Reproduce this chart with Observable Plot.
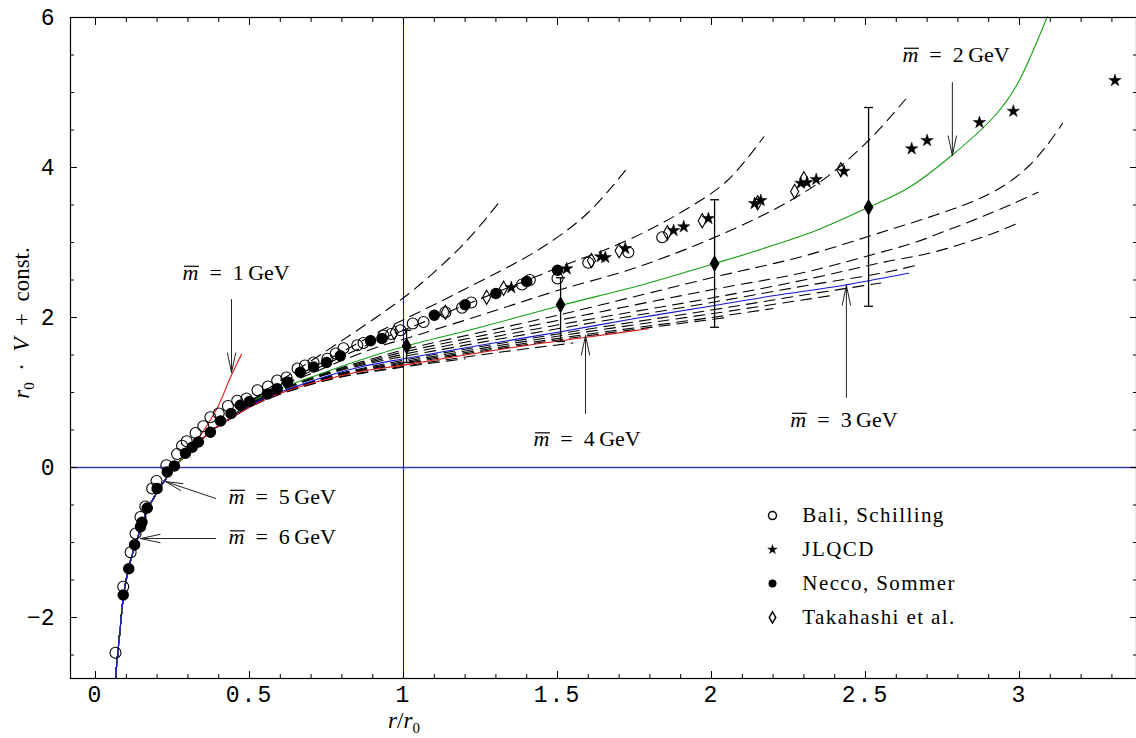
<!DOCTYPE html>
<html><head><meta charset="utf-8">
<script src="https://cdn.jsdelivr.net/npm/d3@7"></script>
<script src="https://cdn.jsdelivr.net/npm/@observablehq/plot@0.6"></script>
<style>body{margin:0;background:#fff;}</style>
</head><body><div id="chart"></div>
<script>
// ---------- data ----------
const xMajorTicks = [0, 0.5, 1, 1.5, 2, 2.5, 3];
const yMajorTicks = [-2, 0, 2, 4, 6];

// lattice data [r/r0, r0*V + const]
const baliSchilling = [[0.065,-2.47],[0.090,-1.59],[0.114,-1.13],[0.130,-0.88],[0.146,-0.66],[0.162,-0.52],[0.184,-0.28],[0.198,-0.18],[0.230,0.03],[0.265,0.18],[0.281,0.29],[0.296,0.35],[0.325,0.46],[0.35,0.55],[0.373,0.67],[0.40,0.72],[0.43,0.82],[0.46,0.89],[0.49,0.92],[0.526,1.03],[0.56,1.08],[0.59,1.16],[0.62,1.20],[0.656,1.32],[0.68,1.36],[0.708,1.40],[0.753,1.45],[0.78,1.52],[0.805,1.59],[0.85,1.63],[0.87,1.66],[0.935,1.76],[0.96,1.78],[0.99,1.83],[1.03,1.92],[1.065,1.94],[1.136,2.07],[1.19,2.13],[1.22,2.20],[1.385,2.44],[1.41,2.50],[1.50,2.52],[1.60,2.73],[1.73,2.87],[1.84,3.07]];
const jlqcd = [[1.35,2.40],[1.53,2.65],[1.64,2.81],[1.655,2.80],[1.72,2.92],[1.877,3.16],[1.91,3.21],[1.99,3.32],[2.14,3.52],[2.16,3.56],[2.29,3.79],[2.31,3.80],[2.34,3.84],[2.43,3.95],[2.65,4.25],[2.70,4.36],[2.87,4.60],[2.98,4.75],[3.31,5.16]];
const neccoSommer = [[0.090,-1.70],[0.108,-1.35],[0.127,-1.03],[0.146,-0.79],[0.151,-0.73],[0.168,-0.54],[0.200,-0.28],[0.233,-0.06],[0.256,0.02],[0.292,0.19],[0.314,0.27],[0.334,0.34],[0.373,0.47],[0.406,0.62],[0.44,0.72],[0.47,0.83],[0.50,0.88],[0.558,0.98],[0.59,1.05],[0.623,1.14],[0.665,1.27],[0.708,1.34],[0.75,1.40],[0.795,1.49],[0.893,1.69],[0.93,1.72],[1.10,2.03],[1.20,2.17],[1.30,2.32],[1.40,2.48],[1.50,2.63]];
const takahashi = [[0.97,1.80],[1.136,2.07],[1.27,2.27],[1.325,2.39],[1.61,2.76],[1.70,2.89],[1.857,3.13],[1.97,3.29],[2.15,3.53],[2.27,3.68],[2.30,3.85],[2.42,3.97]];
// filled diamonds with error bars: [x, y, low, high]
const estimate = [[1.01,1.62,1.40,1.83],[1.51,2.17,1.68,2.53],[2.01,2.72,1.87,3.57],[2.51,3.47,2.15,4.80]];

// curves
const sharedStart = [[0.065,-2.80],[0.08,-2.15],[0.092,-1.68],[0.11,-1.30],[0.13,-1.02],[0.15,-0.78],[0.168,-0.57],[0.20,-0.33],[0.23,-0.14],[0.265,0.05],[0.30,0.18],[0.341,0.36],[0.38,0.50],[0.428,0.63]];
const red1 = [[0.318,0.32],[0.351,0.49],[0.396,0.80],[0.438,1.20],[0.474,1.51]];
const green2 = [[0.526,0.92],[0.773,1.31],[0.925,1.52],[1.0,1.61],[1.055,1.67],[1.25,1.87],[1.51,2.16],[1.77,2.43],[2.01,2.72],[2.13,2.87],[2.34,3.16],[2.51,3.47],[2.64,3.73],[2.78,4.16],[2.92,4.69],[2.99,5.09],[3.09,6.01]];
const blue3 = [[0.536,0.90],[0.643,1.07],[0.753,1.22],[0.86,1.34],[1.0,1.45],[1.25,1.63],[1.51,1.81],[1.77,2.0],[2.01,2.16],[2.2,2.29],[2.43,2.43],[2.64,2.59]];
const red4 = [[0.536,0.88],[0.643,1.05],[0.753,1.18],[0.86,1.28],[1.0,1.365],[1.2,1.50],[1.42,1.64],[1.6,1.74],[1.795,1.85]];
const dashedCurves = [
  [[0.526,0.95],[0.74,1.53],[0.9,1.97],[1.03,2.36],[1.2,3.0],[1.315,3.56]],
  [[0.526,0.94],[0.75,1.43],[0.925,1.82],[1.0,1.97],[1.2,2.38],[1.445,2.92],[1.6,3.4],[1.734,4.03]],
  [[0.526,0.93],[0.75,1.38],[0.925,1.71],[1.0,1.83],[1.25,2.25],[1.5,2.66],[1.727,3.03],[1.9,3.40],[2.05,3.82],[2.17,4.41]],
  [[0.526,0.92],[0.75,1.34],[0.925,1.62],[1.0,1.71],[1.25,2.03],[1.5,2.36],[1.78,2.70],[2.13,3.29],[2.35,3.80],[2.51,4.36],[2.63,4.91]],
  [[0.526,0.91],[0.75,1.27],[0.925,1.48],[1.0,1.57],[1.5,2.03],[2.0,2.53],[2.3,2.82],[2.57,3.16],[2.73,3.37],[2.85,3.55],[2.95,3.76],[3.03,4.02],[3.09,4.30],[3.14,4.59]],
  [[0.526,0.905],[0.75,1.26],[0.925,1.46],[1.0,1.54],[1.5,1.96],[2.0,2.37],[2.3,2.6],[2.55,2.87],[2.66,3.0],[2.77,3.17],[2.87,3.33],[2.98,3.52],[3.06,3.67]],
  [[0.53,0.90],[0.75,1.25],[0.925,1.44],[1.0,1.51],[1.5,1.90],[2.0,2.26],[2.3,2.5],[2.55,2.73],[2.72,2.87],[2.906,3.11],[2.99,3.25]],
  [[0.53,0.90],[0.75,1.24],[0.925,1.42],[1.0,1.48],[1.5,1.85],[2.0,2.20],[2.3,2.42],[2.55,2.59],[2.66,2.69]],
  [[0.536,0.895],[0.753,1.21],[1.0,1.43],[1.5,1.78],[2.0,2.10],[2.3,2.30],[2.55,2.46]],
  [[0.536,0.89],[0.753,1.205],[1.0,1.41],[1.5,1.75],[2.0,2.05],[2.4,2.30]],
  [[0.536,0.887],[0.753,1.20],[1.0,1.395],[1.5,1.72],[2.0,2.0],[2.2,2.12]],
  [[0.536,0.884],[0.753,1.19],[1.0,1.38],[1.5,1.70],[2.05,2.0]],
  [[0.536,0.878],[0.753,1.17],[1.0,1.35],[1.3,1.53],[1.55,1.66]],
  [[0.536,0.875],[0.753,1.165],[1.0,1.34],[1.2,1.45]]
];

// annotations
const massValues = ["1","2","3","4","5","6"];
const massLabelAt = [[0.2825,2.6],[2.62,5.507],[2.256,0.64],[1.422,0.38],[0.432,-0.387],[0.432,-0.927]];
const massArrows = [[0.4416,2.24,0.4416,1.267],[2.782,5.133,2.782,4.16],[2.438,0.933,2.438,2.427],[1.591,0.72,1.591,1.76],[0.39,-0.413,0.227,-0.187],[0.39,-0.947,0.146,-0.947]];
const legendNames = ["Bali, Schilling","JLQCD","Necco, Sommer","Takahashi et al."];

// ---------- build ----------
const X = d => d[0], Y = d => d[1];
const withStart = pts => sharedStart.filter(d => d[0] < pts[0][0] - 0.05).concat(pts);
const dash = "11,7";
const capSym = {draw(c){ c.moveTo(-4.5,0); c.lineTo(4.5,0); }};
const serif = "Liberation Serif";

const legendLayout = {xSym: 2.198, xText: 2.295, yTop: -0.64, step: 0.453};
const legendRows = legendNames.map((name,i) => ({name, x: legendLayout.xSym, xt: legendLayout.xText, y: legendLayout.yTop - i*legendLayout.step}));
const labels = massValues.map((m,i) => ({m, x: massLabelAt[i][0], y: massLabelAt[i][1]}));
const arrows = massArrows.map(a => ({x1:a[0], y1:a[1], x2:a[2], y2:a[3]}));

const xMinor = d3.range(0, 3.35, 0.1).map(v => +v.toFixed(2)).filter(v => !xMajorTicks.includes(v));
const yMinor = d3.range(-2.5, 6.01, 0.5).filter(v => !yMajorTicks.includes(v));
const fmtY = d => d < 0 ? "\u2212" + (-d) : String(d);

const marks = [
  Plot.ruleY([0], {stroke:"#3a3ab4", strokeWidth:1.3}),
  Plot.ruleX([1], {stroke:"#1a1a90", strokeWidth:1.1}),
  ...dashedCurves.map(c => Plot.line(withStart(c), {x:X, y:Y, curve:"catmull-rom", stroke:"black", strokeWidth:1.1, strokeDasharray:dash})),
  Plot.line(withStart(green2), {x:X, y:Y, curve:"catmull-rom", stroke:"#14a014", strokeWidth:1.1}),
  Plot.line(withStart(blue3), {x:X, y:Y, curve:"catmull-rom", stroke:"#1414d8", strokeWidth:1.1}),
  Plot.line(withStart(red4), {x:X, y:Y, curve:"catmull-rom", stroke:"#dc1414", strokeWidth:1.1}),
  Plot.line(withStart(red1), {x:X, y:Y, curve:"catmull-rom", stroke:"#dc1414", strokeWidth:1.1}),
  Plot.line(sharedStart.filter(d => d[0] <= 0.30), {x:X, y:Y, curve:"catmull-rom", stroke:"#14a014", strokeWidth:1.1}),
  Plot.line(sharedStart.filter(d => d[0] <= 0.23), {x:X, y:Y, curve:"catmull-rom", stroke:"#1414d8", strokeWidth:1.1}),
  // data points
  Plot.dot(baliSchilling, {x:X, y:Y, r:5.5, stroke:"black", fill:"none", strokeWidth:1.1}),
  Plot.dot(neccoSommer, {x:X, y:Y, r:5, fill:"black", stroke:"black"}),
  Plot.dot(takahashi, {x:X, y:Y, r:4.3, symbol:"diamond", stroke:"black", fill:"none", strokeWidth:1.1}),
  Plot.dot(jlqcd, {x:X, y:Y, r:3.9, symbol:"star", fill:"black", stroke:"black", strokeWidth:0.5}),
  // error bars
  Plot.ruleX(estimate, {x:d=>d[0], y1:d=>d[2], y2:d=>d[3], stroke:"black", strokeWidth:1.3}),
  Plot.dot(estimate, {x:d=>d[0], y:d=>d[2], symbol:capSym, stroke:"black", fill:"none", strokeWidth:1.3}),
  Plot.dot(estimate, {x:d=>d[0], y:d=>d[3], symbol:capSym, stroke:"black", fill:"none", strokeWidth:1.3}),
  Plot.dot(estimate, {x:d=>d[0], y:d=>d[1], r:4.2, symbol:"diamond", fill:"black", stroke:"black"}),
  // annotations
  Plot.arrow(arrows, {x1:"x1", y1:"y1", x2:"x2", y2:"y2", stroke:"#222", strokeWidth:1, headLength:30, headAngle:24}),
  Plot.text(labels, {x:"x", y:"y", text:"m", textAnchor:"start", fontFamily:serif, fontSize:22, fill:"black", ariaDescription:"mlabel"}),
  // legend
  Plot.dot(legendRows.slice(0,1), {x:"x", y:"y", r:4, stroke:"black", fill:"none"}),
  Plot.dot(legendRows.slice(1,2), {x:"x", y:"y", r:3, symbol:"star", fill:"black", stroke:"black", strokeWidth:0.4}),
  Plot.dot(legendRows.slice(2,3), {x:"x", y:"y", r:4, fill:"black"}),
  Plot.dot(legendRows.slice(3,4), {x:"x", y:"y", r:3.4, symbol:"diamond", stroke:"black", fill:"none"}),
  Plot.text(legendRows, {x:"xt", y:"y", text:"name", textAnchor:"start", fontFamily:serif, fontSize:21, fill:"black", ariaDescription:"legend"}),
  // axes
  Plot.axisX(xMinor, {anchor:"bottom", tickSize:-4, tickFormat:()=>"", label:null}),
  Plot.axisX(xMajorTicks, {anchor:"bottom", tickSize:-7, tickFormat:()=>"", label:null}),
  Plot.axisX(xMinor, {anchor:"top", tickSize:-4, tickFormat:()=>"", label:null}),
  Plot.axisX(xMajorTicks, {anchor:"top", tickSize:-7, tickFormat:()=>"", label:null}),
  Plot.axisX(xMajorTicks, {anchor:"bottom", tickSize:0, tickPadding:7, tickFormat:d=>String(d), fontFamily:"Liberation Mono", fontSize:23, label:null, ariaDescription:"xlab"}),
  Plot.axisY(yMinor, {anchor:"left", tickSize:-4, tickFormat:()=>"", label:null}),
  Plot.axisY(yMajorTicks, {anchor:"left", tickSize:-7, tickFormat:()=>"", label:null}),
  Plot.axisY(yMinor, {anchor:"right", tickSize:-4, tickFormat:()=>"", label:null}),
  Plot.axisY(yMajorTicks, {anchor:"right", tickSize:-7, tickFormat:()=>"", label:null}),
  Plot.axisY(yMajorTicks, {anchor:"left", tickSize:0, tickPadding:16, tickFormat:fmtY, fontFamily:"Liberation Mono", fontSize:23, label:null}),
  Plot.frame({stroke:"black", strokeWidth:1.2})
];

const plot = Plot.plot({
  width:1136, height:738,
  marginLeft:70, marginRight:0, marginTop:17, marginBottom:60,
  x:{domain:[-0.0812, 3.3799]},
  y:{domain:[-2.813, 6.0]},
  style:{background:"white", color:"black", overflow:"visible"},
  marks
});
document.getElementById("chart").append(plot);

const svg = d3.select(plot);
// m-bar labels: italic m with a bar drawn just above it
svg.selectAll('g[aria-description="mlabel"] text').each(function(){
  const v = this.textContent; this.textContent = "";
  const s = d3.select(this);
  s.append("tspan").attr("font-style","italic").text("m");
  s.append("tspan").text("\u2002=\u2002" + v + "\u2009GeV");
  const e = this.getExtentOfChar(0);
  const yb = e.y + e.height * 0.27;
  d3.select(this.parentNode).append("line")
    .attr("transform", this.getAttribute("transform"))
    .attr("x1", e.x + 1.5).attr("x2", e.x + e.width + 0.5)
    .attr("y1", yb).attr("y2", yb)
    .attr("stroke","black").attr("stroke-width",1.2);
});
svg.selectAll('g[aria-description="legend"] text').style("letter-spacing","1.4px");
svg.selectAll('g[aria-description="xlab"] text').style("letter-spacing","2px");
// axis titles
const xt = svg.append("text").attr("x",404).attr("y",728).attr("text-anchor","middle")
  .attr("font-family",serif).attr("font-size",23).attr("fill","black");
xt.append("tspan").attr("font-style","italic").text("r");
xt.append("tspan").text("/");
xt.append("tspan").attr("font-style","italic").text("r");
xt.append("tspan").attr("font-size",15).attr("dy",5).text("0");
const yt = svg.append("text").attr("transform","translate(29,323) rotate(-90)").attr("text-anchor","middle")
  .attr("font-family",serif).attr("font-size",23).attr("fill","black");
yt.append("tspan").attr("font-style","italic").text("r");
yt.append("tspan").attr("font-size",15).attr("dy",5).text("0");
yt.append("tspan").attr("dy",-5).text("\u2002\u00b7\u2002");
yt.append("tspan").attr("font-style","italic").text("V");
yt.append("tspan").text("\u2002+\u2002const.");
</script>
</body></html>
